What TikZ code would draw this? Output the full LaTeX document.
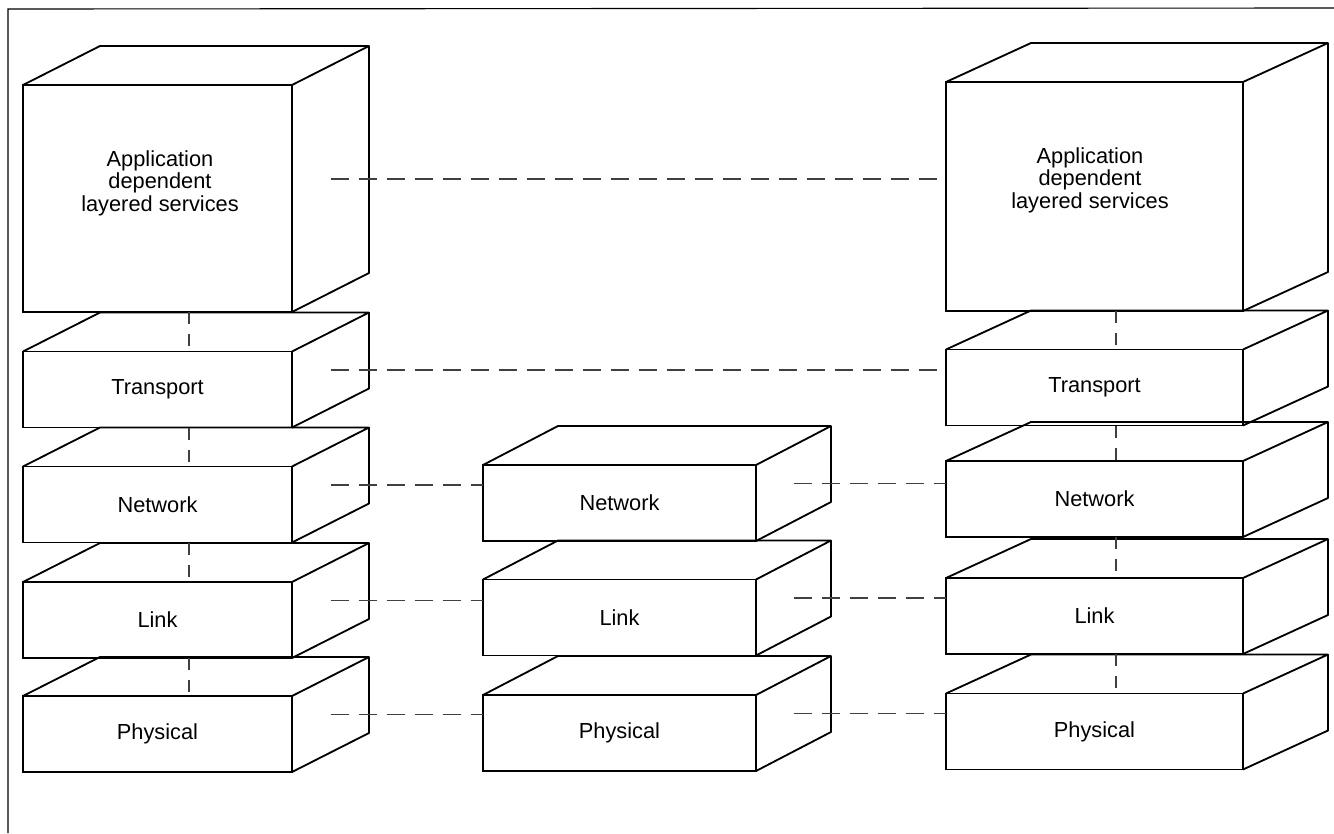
\documentclass[tikz,border=0pt]{standalone}
\usepackage{fontspec}
\setmainfont{Liberation Sans}
\usepackage{tikz}

\begin{document}
\begin{tikzpicture}[x=0.5mm,y=-0.5mm,
        layer/.style={draw,line width=2.6pt,inner sep=0pt,outer sep=0pt,
          minimum height=38mm,font=\fontsize{31}{32}\selectfont},
        face/.style={line width=2.6pt,line join=round},
        peer/.style={line width=1.6pt,black!75,dash pattern=on 9mm off 5mm},
        stack/.style={line width=1.6pt,black!75,dash pattern=on 6mm off 5mm}]
        \useasboundingbox (0,0) rectangle (1334,833);
        \draw[line width=1.6pt] (8,833) -- (8,9) -- (1334,8);

        % left host
        \node[layer,minimum width=134.5mm,minimum height=113.5mm] (lapp) at (157.5,198.5) {};
        \node[font=\fontsize{31}{32}\selectfont,align=center] (lapptxt) at (160,183)
          {Application\\dependent\\layered services};
        \foreach \n/\y/\t in {ltrn/389.5/Transport, lnet/504.5/Network, llnk/620/Link, lphy/734/Physical}
          \node[layer,minimum width=134.5mm] (\n) at (157.5,\y) {\t};
        \foreach \n in {lapp,ltrn,lnet,llnk,lphy} {
          \draw[face] (\n.north west) -- ++(77,-39) -- ([shift={(77,-39)}]\n.north east)
            -- ([shift={(77,-39)}]\n.south east) -- (\n.south east)
            (\n.north east) -- ++(77,-39);
          \coordinate (\n-r) at ([shift={(38.5,-19.5)}]\n.east);
        }

        % middle node
        \foreach \n/\y/\t in {mnet/503/Network, mlnk/617.5/Link, mphy/733/Physical}
          \node[layer,minimum width=136.5mm] (\n) at (619.5,\y) {\t};
        \foreach \n in {mnet,mlnk,mphy} {
          \draw[face] (\n.north west) -- ++(75,-39) -- ([shift={(75,-39)}]\n.north east)
            -- ([shift={(75,-39)}]\n.south east) -- (\n.south east)
            (\n.north east) -- ++(75,-39);
          \coordinate (\n-r) at ([shift={(37.5,-19.5)}]\n.east);
        }

        % right host
        \node[layer,minimum width=148.5mm,minimum height=114.5mm] (rapp) at (1094.5,196.5) {};
        \node[font=\fontsize{31}{32}\selectfont,align=center] (rapptxt) at (1090,180)
          {Application\\dependent\\layered services};
        \foreach \n/\y/\t in {rtrn/387.5/Transport, rnet/499/Network, rlnk/616/Link, rphy/731.5/Physical}
          \node[layer,minimum width=148.5mm] (\n) at (1094.5,\y) {\t};
        \foreach \n in {rapp,rtrn,rnet,rlnk,rphy}
          \draw[face] (\n.north west) -- ++(85,-39) -- ([shift={(85,-39)}]\n.north east)
            -- ([shift={(85,-39)}]\n.south east) -- (\n.south east)
            (\n.north east) -- ++(85,-39);

        % peer protocols
        \draw[peer] (lapp-r) -- (rapp.west |- lapp-r);
        \draw[peer] (ltrn-r) -- (rtrn.west |- ltrn-r);
        \draw[peer] (lnet-r) -- (mnet.west |- lnet-r);
        \draw[peer] (llnk-r) -- (mlnk.west |- llnk-r);
        \draw[peer] (lphy-r) -- (mphy.west |- lphy-r);
        \draw[peer] (mnet-r) -- (rnet.west |- mnet-r);
        \draw[peer] (mlnk-r) -- (rlnk.west |- mlnk-r);
        \draw[peer] (mphy-r) -- (rphy.west |- mphy-r);

        % interfaces between layers
        \coordinate (laxis) at (189,0);
        \coordinate (raxis) at (1116,0);
        \foreach \a/\b in {lapp/ltrn, ltrn/lnet, lnet/llnk, llnk/lphy}
          \draw[stack] (\a.south -| laxis) -- (\b.north -| laxis);
        \foreach \a/\b in {rapp/rtrn, rtrn/rnet, rnet/rlnk, rlnk/rphy}
          \draw[stack] (\a.south -| raxis) -- (\b.north -| raxis);
\end{tikzpicture}
\end{document}
